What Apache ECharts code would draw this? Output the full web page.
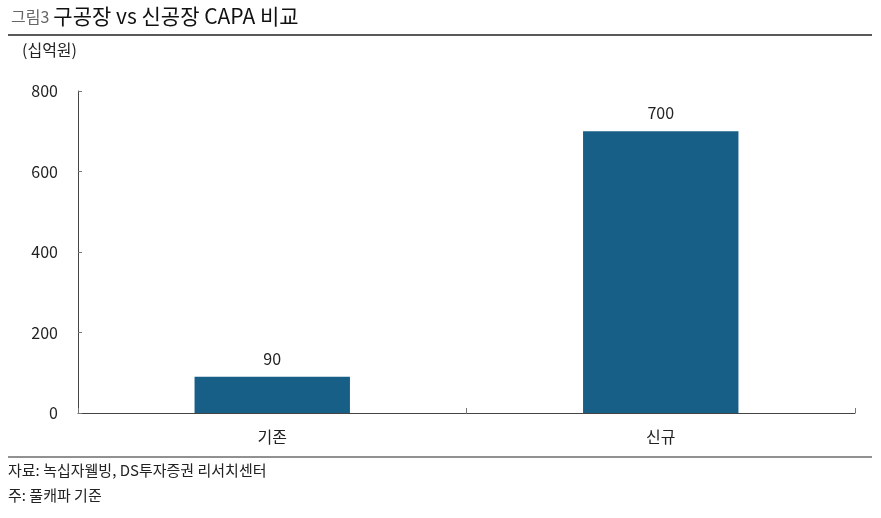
<!DOCTYPE html>
<html>
<head>
<meta charset="utf-8">
<script src="https://cdn.jsdelivr.net/npm/echarts@6/dist/echarts.min.js"></script>
<style>
  html, body { margin: 0; padding: 0; background: #fff; }
  #chart { width: 881px; height: 518px; }
</style>
</head>
<body>
<div id="chart"></div>
<script>
// data
const categories = ['기존', '신규'];
const capaValues = [90, 700];
const yTicks = [0, 200, 400, 600, 800];

const FONT = '"Noto Sans CJK KR", "Noto Sans", sans-serif';
const chart = echarts.init(document.getElementById('chart'));

const option = {
  animation: false,
  backgroundColor: '#fff',
  textStyle: { fontFamily: FONT },
  title: {
    left: 6,
    top: 1,
    text: '{a|그림3} {b|구공장 vs 신공장 CAPA 비교}',
    textStyle: {
      fontWeight: 'normal',
      rich: {
        a: { fontSize: 16, color: '#666', fontFamily: FONT, fontWeight: 'normal' },
        b: { fontSize: 21, color: '#111', fontFamily: FONT, fontWeight: 'normal' }
      }
    }
  },
  grid: { left: 78, right: 26, top: 91, bottom: 105 },
  xAxis: {
    type: 'category',
    data: categories,
    axisLine: { lineStyle: { color: '#444', width: 1 } },
    axisTick: { show: true, inside: true, length: 5, lineStyle: { color: '#777' } },
    axisLabel: { color: '#222', fontSize: 16, margin: 16, fontFamily: FONT }
  },
  yAxis: {
    type: 'value',
    min: yTicks[0],
    max: yTicks[yTicks.length - 1],
    interval: 200,
    axisLine: { show: true, lineStyle: { color: '#444', width: 1 } },
    axisTick: { show: true, inside: true, length: 4, lineStyle: { color: '#777' } },
    splitLine: { show: false },
    axisLabel: { color: '#222', fontSize: 16, margin: 20, fontFamily: FONT }
  },
  series: [
    {
      type: 'bar',
      data: capaValues,
      barWidth: '40%',
      itemStyle: { color: '#175f87' },
      label: {
        show: true,
        position: 'top',
        distance: 10,
        color: '#222',
        fontSize: 16,
        fontFamily: FONT
      }
    }
  ],
  graphic: [
    { type: 'line', shape: { x1: 8, y1: 35, x2: 872, y2: 35 }, style: { stroke: '#222', lineWidth: 1.5 } },
    { type: 'text', left: 22, top: 42, style: { text: '(십억원)', fontSize: 16, fill: '#222', fontFamily: FONT } },
    { type: 'line', shape: { x1: 8, y1: 457, x2: 872, y2: 457 }, style: { stroke: '#222', lineWidth: 1 } },
    { type: 'text', left: 8, top: 463, style: { text: '자료: 녹십자웰빙, DS투자증권 리서치센터', fontSize: 15, fill: '#222', fontFamily: FONT } },
    { type: 'text', left: 8, top: 488, style: { text: '주: 풀캐파 기준', fontSize: 15, fill: '#222', fontFamily: FONT } }
  ]
};

chart.setOption(option);
</script>
</body>
</html>
